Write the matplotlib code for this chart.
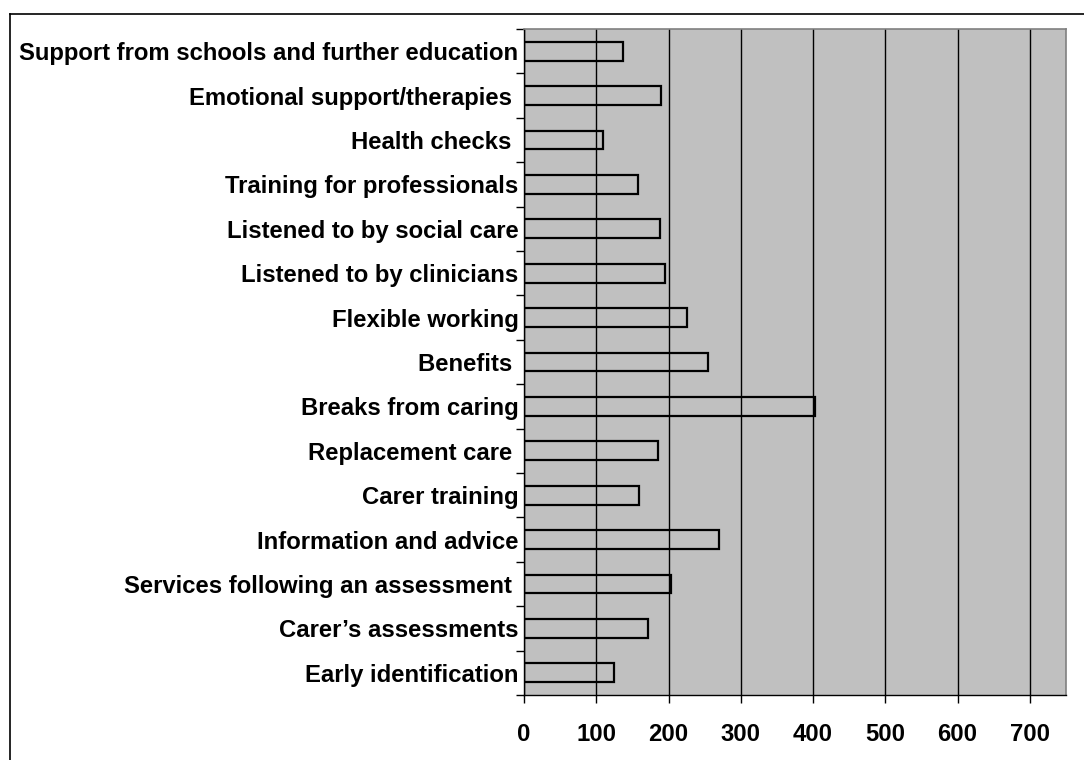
import numpy as np
import matplotlib.pyplot as plt
from matplotlib.lines import Line2D

plt.rcParams["font.family"] = ["Liberation Sans", "DejaVu Sans"]
plt.rcParams["font.weight"] = "bold"

# top to bottom, as in the chart
categories = [
    "Support from schools and further education",
    "Emotional support/therapies ",
    "Health checks ",
    "Training for professionals",
    "Listened to by social care",
    "Listened to by clinicians",
    "Flexible working",
    "Benefits ",
    "Breaks from caring",
    "Replacement care ",
    "Carer training",
    "Information and advice",
    "Services following an assessment ",
    "Carer\u2019s assessments",
    "Early identification",
]
values = [137, 190, 109, 158, 188, 195, 225, 254, 402, 186, 159, 270, 204, 172, 125]
x_ticks = [0, 100, 200, 300, 400, 500, 600, 700]

fig = plt.figure(figsize=(10.84, 7.6), dpi=100)
ax = fig.add_axes([524 / 1084, 65 / 760, 542 / 1084, 666 / 760])
ax.set_facecolor("#C0C0C0")

y_pos = np.arange(len(categories))
ax.barh(y_pos, values, height=0.42, facecolor="none", edgecolor="black",
        linewidth=1.6, zorder=3)

ax.set_xlim(0, 750)
ax.set_ylim(len(categories) - 0.5, -0.5)

ax.set_xticks(x_ticks)
ax.set_xticklabels([str(t) for t in x_ticks])
ax.grid(axis="x", color="black", linewidth=1, zorder=1)
ax.set_axisbelow(True)

ax.set_yticks(y_pos)
ax.set_yticklabels(categories)
ax.set_yticks(np.arange(len(categories) + 1) - 0.5, minor=True)
ax.tick_params(axis="y", which="major", length=0, pad=4, labelsize=17.2)
ax.tick_params(axis="y", which="minor", length=6, width=1, color="black")
ax.tick_params(axis="x", which="major", length=6, width=1, pad=14, labelsize=17.2)

for side in ["left", "bottom"]:
    ax.spines[side].set_color("black")
    ax.spines[side].set_linewidth(1)
for side in ["top", "right"]:
    ax.spines[side].set_color("#808080")
    ax.spines[side].set_linewidth(1.2)

# outer chart frame (only top and left edges visible in the crop)
fig.add_artist(Line2D([9.5 / 1084, 9.5 / 1084], [0, 746 / 760], color="black",
                      linewidth=1.2, transform=fig.transFigure))
fig.add_artist(Line2D([9.5 / 1084, 1], [746 / 760, 746 / 760], color="black",
                      linewidth=1.2, transform=fig.transFigure))

plt.savefig("out.png", dpi=100)
plt.close()
